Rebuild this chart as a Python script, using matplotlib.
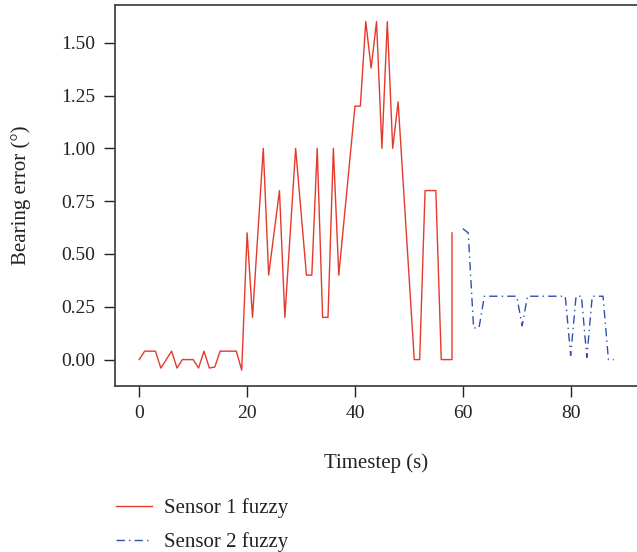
"""Bearing error of the two fuzzy sensors over time."""

import matplotlib

matplotlib.use("Agg")
from matplotlib import pyplot as plt

# sensor 1 (red, solid): vertices
s1_time = [0, 1, 3, 4, 6, 7, 8, 10, 11, 12, 13, 14, 15, 18, 19, 20, 21, 23, 24,
           26, 27, 29, 31, 32, 33, 34, 35, 36, 37, 40, 41, 42, 43, 44, 45, 46,
           47, 48, 51, 52, 53, 55, 56, 58, 58]
s1_error = [0.0, 0.04, 0.04, -0.04, 0.04, -0.04, 0.0, 0.0, -0.04, 0.04, -0.04,
            -0.035, 0.04, 0.04, -0.05, 0.6, 0.2, 1.0, 0.4, 0.8, 0.2, 1.0, 0.4,
            0.4, 1.0, 0.2, 0.2, 1.0, 0.4, 1.2, 1.2, 1.6, 1.38, 1.6, 1.0, 1.6,
            1.0, 1.22, 0.0, 0.0, 0.8, 0.8, 0.0, 0.0, 0.6]

# sensor 2 (blue, dash-dot)
s2_time = [60, 61, 62, 63, 64, 70, 71, 72, 79, 80, 81, 82, 83, 84, 86, 87, 88]
s2_error = [0.62, 0.6, 0.15, 0.15, 0.3, 0.3, 0.16, 0.3, 0.3, 0.02, 0.3, 0.3,
            0.01, 0.3, 0.3, 0.0, 0.0]

x_ticks = [0, 20, 40, 60, 80]
y_ticks = [0.0, 0.25, 0.5, 0.75, 1.0, 1.25, 1.5]

plt.rcParams["font.family"] = ["Liberation Serif", "DejaVu Serif"]
plt.rcParams["font.size"] = 14

figure = plt.figure(figsize=(6.37, 5.52), dpi=100)
axis = figure.add_axes((0.1805, 0.3007, 0.8195, 0.6908))

line1, = axis.plot(s1_time, s1_error, color="#e5392c", linewidth=1.0,
                   label="Sensor 1 fuzzy")
line2, = axis.plot(s2_time, s2_error, color="#3050b0", linewidth=1.0,
                   linestyle=(0, (6, 3, 1, 3)), label="Sensor 2 fuzzy")

axis.set_xlim(-4.5, 92.3)
axis.set_ylim(-0.125, 1.68)
axis.set_xticks(x_ticks)
axis.set_yticks(y_ticks)
axis.set_yticklabels([f"{v:.2f}" for v in y_ticks])
axis.spines["right"].set_visible(False)
for side in ("left", "top", "bottom"):
    axis.spines[side].set_color("#444444")
    axis.spines[side].set_linewidth(1.3)
axis.tick_params(direction="out", length=8, width=1.0, color="#222222",
                 labelcolor="#222222", pad=6, labelsize=14)
axis.set_xlabel("Timestep (s)", labelpad=22, color="#222222", fontsize=15)
axis.set_ylabel("Bearing error (°)", labelpad=22, color="#222222", fontsize=15)

figure.legend(handles=[line1, line2], loc="upper left",
              bbox_to_anchor=(0.1695, 0.113), bbox_transform=figure.transFigure,
              borderaxespad=0, frameon=False, handlelength=1.7,
              handletextpad=0.6, labelspacing=0.7, fontsize=15,
              labelcolor="#222222")

figure.savefig("out.png", dpi=100)
plt.close(figure)
